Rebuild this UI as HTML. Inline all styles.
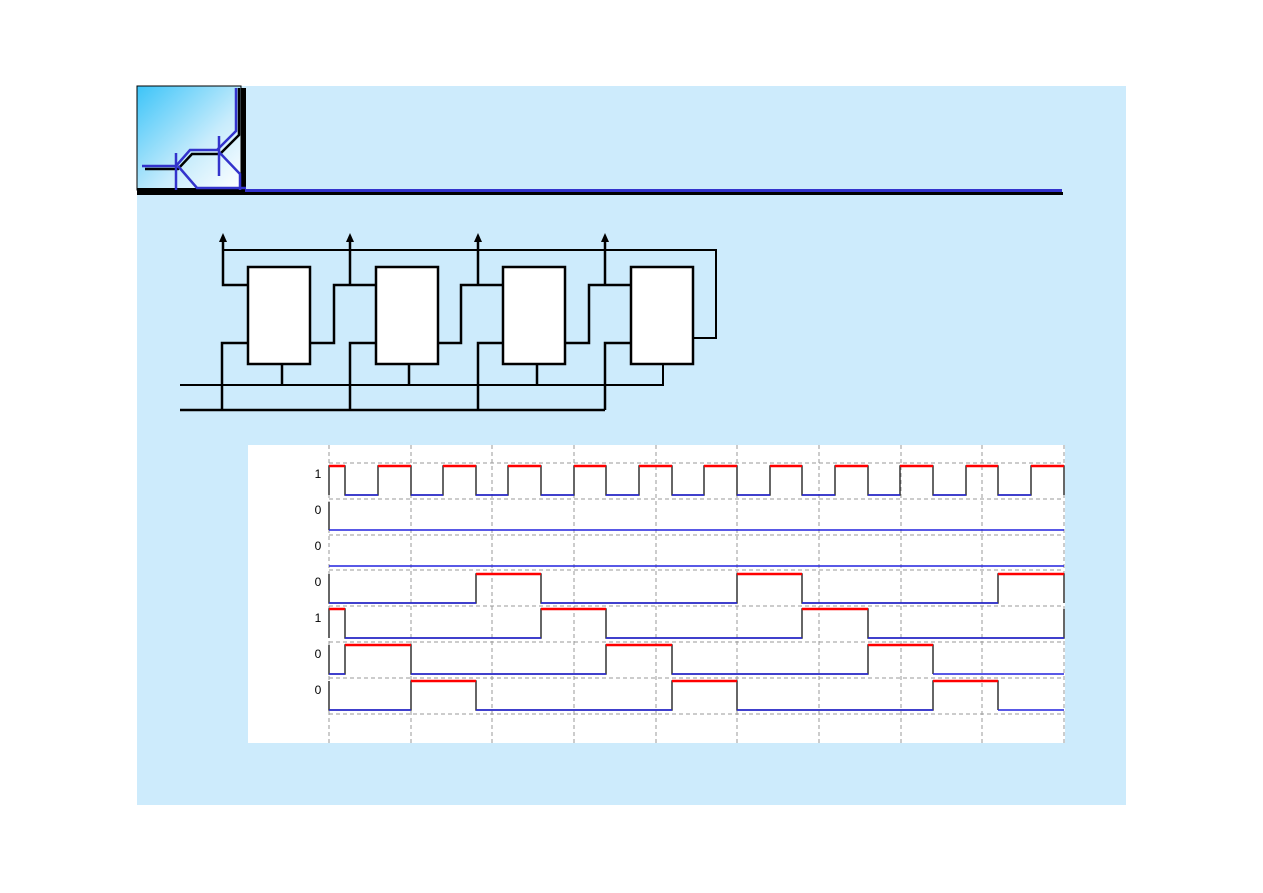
<!DOCTYPE html>
<html><head><meta charset="utf-8"><style>html,body{margin:0;padding:0;background:#fff;}svg{display:block}</style></head>
<body>
<svg width="1263" height="893" viewBox="0 0 1263 893" xmlns="http://www.w3.org/2000/svg" font-family="Liberation Sans, sans-serif">
<defs><linearGradient id="g" x1="0" y1="0" x2="1" y2="1"><stop offset="0" stop-color="#3cc4f8"/><stop offset="0.6" stop-color="#c8ecfc"/><stop offset="1" stop-color="#ffffff"/></linearGradient></defs>
<rect x="137" y="86" width="989" height="719" fill="#cdebfc"/>
<!-- logo -->
<rect x="240" y="88" width="6" height="105" fill="#000"/>
<rect x="137" y="86" width="104" height="104" fill="url(#g)" stroke="#000" stroke-width="1"/>
<rect x="137" y="188" width="106" height="5" fill="#000"/>
<g fill="none" stroke-width="2.5">
<path d="M145,169H178L192,154H220L239,135V88" stroke="#000"/>
<path d="M142,166H176L190,150H217L236,131V88" stroke="#3333cc"/>
<path d="M176,153V190M219,136V176" stroke="#3333cc"/>
<path d="M178,166L197,188H246M219,152L240,174V190" stroke="#3333cc"/>
</g>
<rect x="245" y="189" width="817" height="3" fill="#3333cc"/>
<rect x="137" y="192" width="926" height="3" fill="#000"/>
<!-- circuit -->
<g fill="none" stroke="#000" stroke-width="2.5">
<path d="M223,240V285H248"/>
<path d="M350,240V285"/><path d="M478,240V285"/><path d="M605,240V285"/>
<path d="M223,250H716V338H693" stroke-width="2"/>
<path d="M310,343H334V285H376"/><path d="M438,343H461V285H503"/><path d="M565,343H589V285H631"/>
<path d="M248,343H222V410"/><path d="M376,343H350V410"/><path d="M503,343H478V410"/><path d="M631,343H605V410"/>
<path d="M180,385H663V364" stroke-width="2"/>
<path d="M282,364V385M409,364V385M537,364V385"/>
<path d="M180,410H605"/>
</g>
<g fill="#000"><path d="M223,233l-4,9h8z"/><path d="M350,233l-4,9h8z"/><path d="M478,233l-4,9h8z"/><path d="M605,233l-4,9h8z"/></g>
<g fill="#fff" stroke="#000" stroke-width="2.5">
<rect x="248" y="267" width="62" height="97"/><rect x="376" y="267" width="62" height="97"/><rect x="503" y="267" width="62" height="97"/><rect x="631" y="267" width="62" height="97"/>
</g>
<!-- waveform panel -->
<rect x="248" y="445" width="817" height="298" fill="#fff"/>
<g stroke="#999" stroke-width="1" stroke-dasharray="4,3" fill="none">
<path d="M329,445V743M411,445V743M492,445V743M574,445V743M656,445V743M737,445V743M819,445V743M901,445V743M982,445V743M1064,445V743"/>
<path d="M329,463H1064M329,499H1064M329,535H1064M329,570H1064M329,606H1064M329,642H1064M329,678H1064M329,714H1064"/>
</g>
<g font-size="12" fill="#000" text-anchor="middle">
<text x="318" y="478">1</text><text x="318" y="514">0</text><text x="318" y="550">0</text><text x="318" y="586">0</text><text x="318" y="622">1</text><text x="318" y="658">0</text><text x="318" y="694">0</text>
</g>
<g fill="none" stroke-width="1.5">
<!-- row1 -->
<path stroke="#333" d="M329,495V466H345V495H378V466H411V495H443V466H476V495H508V466H541V495H574V466H606V495H639V466H672V495H704V466H737V495H770V466H802V495H835V466H868V495H900V466H933V495H966V466H998V495H1031V466H1064V495"/>
<path stroke="#ff0000" stroke-width="2.5" d="M329,466H345M378,466H411M443,466H476M508,466H541M574,466H606M639,466H672M704,466H737M770,466H802M835,466H868M900,466H933M966,466H998M1031,466H1064"/>
<path stroke="#2222dd" d="M345,495H378M411,495H443M476,495H508M541,495H574M606,495H639M672,495H704M737,495H770M802,495H835M868,495H900M933,495H966M998,495H1031"/>
<!-- row2 -->
<path stroke="#333" d="M329,502V530"/><path stroke="#2222dd" d="M329,530H1064"/>
<!-- row3 -->
<path stroke="#2222dd" d="M329,566H1064"/>
<!-- row4 -->
<path stroke="#333" d="M329,574V603H476V574H541V603H737V574H802V603H998V574H1064V603"/>
<path stroke="#ff0000" stroke-width="2.5" d="M476,574H541M737,574H802M998,574H1064"/>
<path stroke="#2222dd" d="M329,603H476M541,603H737M802,603H998"/>
<!-- row5 -->
<path stroke="#333" d="M329,638V609H345V638H541V609H606V638H802V609H868V638H1064V609"/>
<path stroke="#ff0000" stroke-width="2.5" d="M329,609H345M541,609H606M802,609H868"/>
<path stroke="#2222dd" d="M345,638H541M606,638H802M868,638H1064"/>
<!-- row6 -->
<path stroke="#333" d="M329,645V674H345V645H411V674H606V645H672V674H868V645H933V674"/>
<path stroke="#ff0000" stroke-width="2.5" d="M345,645H411M606,645H672M868,645H933"/>
<path stroke="#2222dd" d="M329,674H345M411,674H606M672,674H868M933,674H1064"/>
<!-- row7 -->
<path stroke="#333" d="M329,681V710H411V681H476V710H672V681H737V710H933V681H998V710"/>
<path stroke="#ff0000" stroke-width="2.5" d="M411,681H476M672,681H737M933,681H998"/>
<path stroke="#2222dd" d="M329,710H411M476,710H672M737,710H933M998,710H1064"/>
</g>
</svg>
</body></html>
